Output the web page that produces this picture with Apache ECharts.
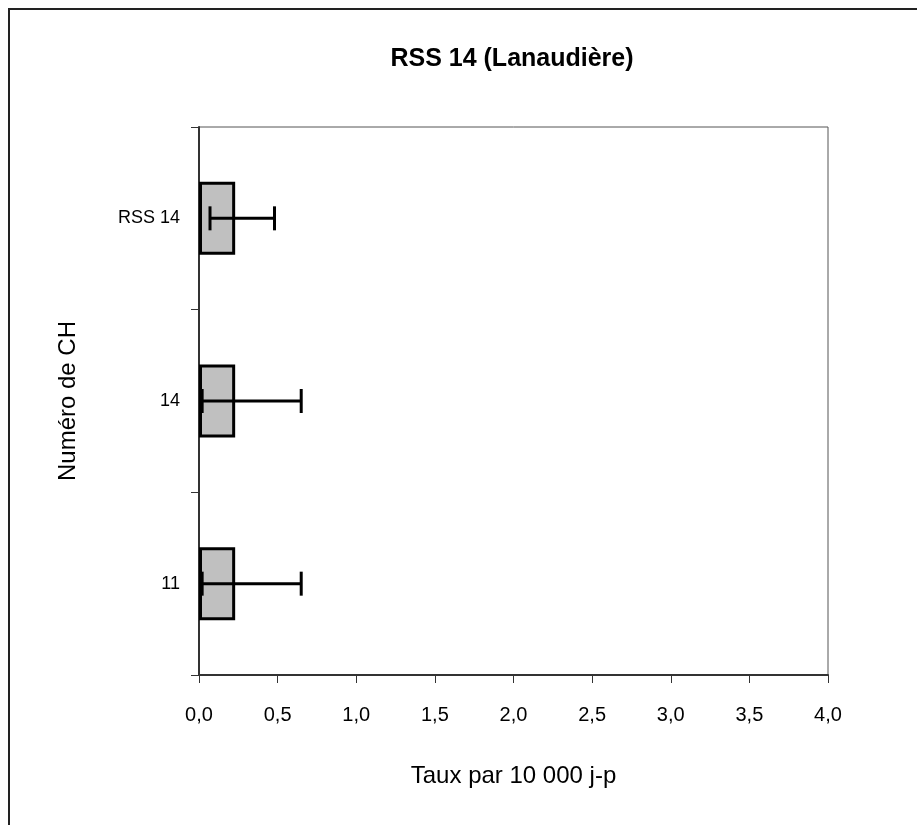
<!DOCTYPE html>
<html>
<head>
<meta charset="utf-8">
<script src="https://cdn.jsdelivr.net/npm/echarts@6/dist/echarts.min.js"></script>
<style>
  html, body { margin: 0; padding: 0; background: #fff; }
  #chart { width: 917px; height: 825px; }
</style>
</head>
<body>
<div id="chart"></div>
<script>
  // données (de bas en haut)
  var categories = ['11', '14', 'RSS 14'];
  var taux = [0.23, 0.23, 0.23];
  var borneInf = [0.02, 0.02, 0.07];
  var borneSup = [0.65, 0.65, 0.48];
  var xTicks = { min: 0, max: 4, interval: 0.5 };

  var errData = categories.map(function (c, i) {
    return [i, borneInf[i], borneSup[i]];
  });

  var chart = echarts.init(document.getElementById('chart'));
  chart.setOption({
    animation: false,
    title: {
      text: 'RSS 14 (Lanaudière)',
      left: 507,
      top: 42,
      textAlign: 'center',
      textStyle: {
        fontFamily: 'Liberation Sans',
        fontSize: 25,
        fontWeight: 'bold',
        color: '#000'
      }
    },
    graphic: [{
      type: 'rect',
      shape: { x: 9, y: 9, width: 1200, height: 1200 },
      style: { fill: 'none', stroke: '#222', lineWidth: 2 },
      silent: true
    }],
    grid: {
      left: 199, top: 127, right: 89, bottom: 150,
      show: true, borderColor: '#555', borderWidth: 1
    },
    xAxis: {
      type: 'value',
      min: xTicks.min, max: xTicks.max, interval: xTicks.interval,
      name: 'Taux par 10 000 j-p',
      nameLocation: 'middle',
      nameGap: 89,
      nameTextStyle: { fontFamily: 'Liberation Sans', fontSize: 24, color: '#000' },
      axisLine: { show: true, lineStyle: { color: '#333', width: 2 } },
      axisTick: { show: true, length: 8, lineStyle: { color: '#333', width: 1 } },
      axisLabel: {
        margin: 30,
        fontFamily: 'Liberation Sans', fontSize: 20, color: '#000',
        formatter: function (v) { return v.toFixed(1).replace('.', ','); }
      },
      splitLine: { show: false }
    },
    yAxis: {
      type: 'category',
      data: categories,
      name: 'Numéro de CH',
      nameLocation: 'middle',
      nameGap: 119,
      nameTextStyle: { fontFamily: 'Liberation Sans', fontSize: 24, color: '#000' },
      axisLine: { show: true, lineStyle: { color: '#333', width: 2 } },
      axisTick: { show: true, length: 8, lineStyle: { color: '#333', width: 1 } },
      axisLabel: { margin: 19, fontFamily: 'Liberation Sans', fontSize: 18, color: '#000' }
    },
    series: [{
      type: 'bar',
      data: taux,
      barWidth: '40%',
      itemStyle: { color: '#c0c0c0', borderColor: '#000', borderWidth: 3 }
    }, {
      type: 'custom',
      data: errData,
      z: 10,
      renderItem: function (params, api) {
        var y = api.value(0);
        var p1 = api.coord([api.value(1), y]);
        var p2 = api.coord([api.value(2), y]);
        var h = 12;
        var st = { stroke: '#000', lineWidth: 3 };
        return {
          type: 'group',
          children: [
            { type: 'line', shape: { x1: p1[0], y1: p1[1], x2: p2[0], y2: p2[1] }, style: st },
            { type: 'line', shape: { x1: p1[0], y1: p1[1] - h, x2: p1[0], y2: p1[1] + h }, style: st },
            { type: 'line', shape: { x1: p2[0], y1: p2[1] - h, x2: p2[0], y2: p2[1] + h }, style: st }
          ]
        };
      }
    }]
  });
</script>
</body>
</html>
